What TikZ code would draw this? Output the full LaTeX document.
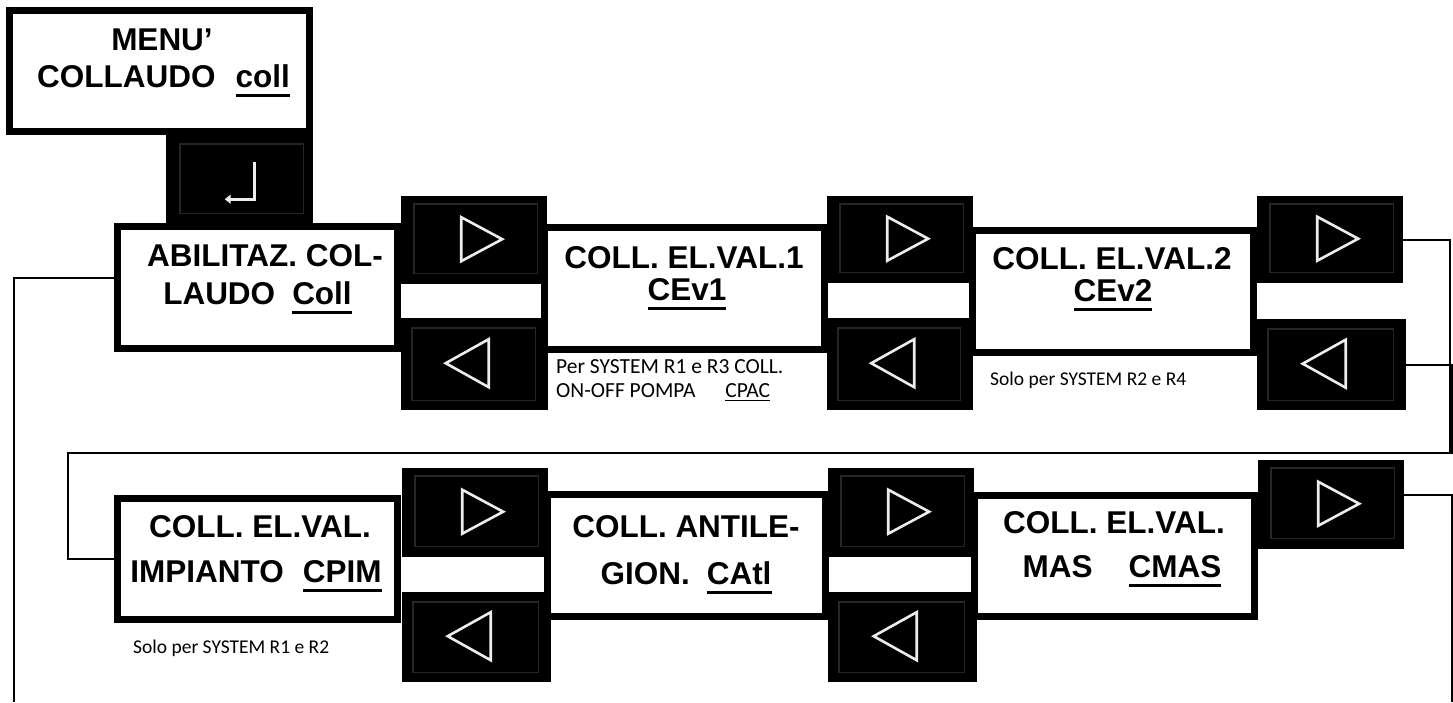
\documentclass[tikz,border=0pt]{standalone}
\usepackage{fontspec}
\setmainfont{Liberation Sans}
\newfontfamily\notefont{Carlito}
\usetikzlibrary{arrows.meta}
\newcommand\ulx[1]{\setbox0=\hbox{#1}\rlap{\rule[-9.5pt]{\wd0}{3pt}}\box0}
\newcommand\uls[1]{\setbox0=\hbox{#1}\rlap{\rule[-4pt]{\wd0}{1.5pt}}\box0}
% right button: name, x, y, w, h
\newcommand\rbtn[5]{%
  \node[btn,minimum width=#4pt,minimum height=#5pt] (#1) at (#2,#3) {};
  \draw[btnframe] ([shift={(13,8)}]#1.north west) rectangle ([shift={(-10,-11)}]#1.south east);
  \draw[tri] ([shift={(-13,-23)}]#1.center) -- ([shift={(-13,21)}]#1.center) -- ([shift={(28,-1)}]#1.center) -- cycle;}
\newcommand\lbtn[5]{%
  \node[btn,minimum width=#4pt,minimum height=#5pt] (#1) at (#2,#3) {};
  \draw[btnframe] ([shift={(11,10)}]#1.north west) rectangle ([shift={(-13,-10)}]#1.south east);
  \draw[tri] ([shift={(14,-25)}]#1.center) -- ([shift={(14,23)}]#1.center) -- ([shift={(-29,-1)}]#1.center) -- cycle;}
\begin{document}
\begin{tikzpicture}[x=1pt,y=-1pt,
  box/.style={draw=black,line width=7pt,fill=white,inner sep=0pt},
  btn/.style={fill=black,inner sep=0pt,anchor=north west},
  big/.style={font=\bfseries\fontsize{31.5}{38}\selectfont,inner sep=0pt,anchor=base},
  note/.style={font=\notefont\fontsize{21.5}{25}\selectfont,inner sep=0pt,anchor=base west},
  smallnote/.style={font=\notefont\fontsize{19.5}{24}\selectfont,inner sep=0pt,anchor=base west},
  conn/.style={line width=2pt,draw=black},
  tri/.style={draw=white!93!black,line width=2.6pt,line join=miter},
  btnframe/.style={draw=black!85!white,line width=1.5pt}
]
\useasboundingbox (0,0) rectangle (1453,702);
\fill[white] (0,0) rectangle (1453,702);

% boxes
\node[box,minimum width=300pt,minimum height=121pt] (menu) at (159.5,71) {};
\node[box,minimum width=280pt,minimum height=122pt] (b1) at (257.5,287.5) {};
\node[box,minimum width=280pt,minimum height=122pt] (b2) at (684.5,288.5) {};
\node[box,minimum width=281pt,minimum height=122pt] (b3) at (1113,291.5) {};
\node[box,minimum width=280pt,minimum height=121pt] (b4) at (257.5,559) {};
\node[box,minimum width=278pt,minimum height=122pt] (b5) at (686.5,555.5) {};
\node[box,minimum width=280pt,minimum height=121pt] (b6) at (1114.5,556) {};

% enter button
\node[btn,minimum width=147pt,minimum height=88pt] (ent) at (166,135) {};
\draw[btnframe] ([shift={(14,9)}]ent.north west) rectangle ([shift={(-10,-10)}]ent.south east);
\draw[white!93!black,line width=2.6pt,-{Triangle[width=9pt,length=6pt]}]
  ([shift={(14.5,-17)}]ent.center) -- ([shift={(14.5,20)}]ent.center) -- ([shift={(-15,20)}]ent.center);

% arrow buttons
\rbtn{r1}{401}{196}{146}{88}
\lbtn{l1}{401}{318}{147}{92}
\rbtn{r2}{827}{196}{146}{87}
\lbtn{l2}{827}{318}{146}{92}
\rbtn{r3}{1257}{196}{146}{87}
\lbtn{l3}{1257}{319}{149}{91}
\rbtn{r4}{402}{468}{146}{89}
\lbtn{l4}{402}{592}{149}{90}
\rbtn{r5}{828}{468}{146}{89}
\lbtn{l5}{828}{592}{149}{90}
\rbtn{r6}{1258}{460}{146}{89}

% connectors
\coordinate (bot1) at (14,702);
\coordinate (bot2) at (1452,702);
\draw[conn] (r3.east) -| (1450,453) -| (68,559) -- (b4.west);
\draw[conn] (l3.east) -| (1452,453) -- (1450,453);
\draw[conn] ([yshift=10pt]r6.east) -| (bot2);
\draw[conn] ([yshift=9.5pt]b1.west) -| (bot1);

% texts
\node[big] (t1a) at (162,50) {MENU’};
\node[big,anchor=base west] (t1b) at (37,87) {COLLAUDO\hspace{20pt}\ulx{coll}};
\node[big] (t2a) at (265,266) {ABILITAZ. COL-};
\node[big] (t2b) at (257.5,304) {LAUDO\hspace{17pt}\ulx{Coll}};
\node[big] (t3a) at (684,268) {COLL. EL.VAL.1};
\node[big] (t3b) at (687,300) {\ulx{CEv1}};
\node[big] (t4a) at (1112,269) {COLL. EL.VAL.2};
\node[big] (t4b) at (1113,301) {\ulx{CEv2}};
\node[big] (t5a) at (260,537) {COLL. EL.VAL.};
\node[big] (t5b) at (256,582) {IMPIANTO\hspace{19pt}\ulx{CPIM}};
\node[big] (t6a) at (686,537) {COLL. ANTILE-};
\node[big] (t6b) at (686,584) {GION.\hspace{17pt}\ulx{CAtl}};
\node[big] (t7a) at (1114,533) {COLL. EL.VAL.};
\node[big] (t7b) at (1122,577) {MAS\hspace{36pt}\ulx{CMAS}};

\node[note] (n1a) at (556,373) {Per SYSTEM R1 e R3 COLL.};
\node[note] (n1b) at (556,397) {ON-OFF POMPA\hspace{30pt}\uls{CPAC}};
\node[smallnote] (n2) at (990,385) {Solo per SYSTEM R2 e R4};
\node[smallnote] (n3) at (133,653) {Solo per SYSTEM R1 e R2};
\end{tikzpicture}
\end{document}
